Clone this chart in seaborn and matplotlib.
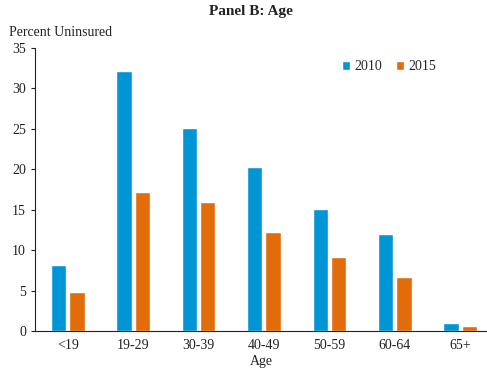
import matplotlib
matplotlib.use("Agg")
import matplotlib.pyplot as plt
import seaborn as sns
import pandas as pd

age_groups = ["<19", "19-29", "30-39", "40-49", "50-59", "60-64", "65+"]
years = ["2010", "2015"]
uninsured_2010 = [8.2, 32.2, 25.1, 20.3, 15.1, 12.0, 1.0]
uninsured_2015 = [4.8, 17.2, 15.9, 12.3, 9.1, 6.7, 0.6]

df = pd.DataFrame({
    "Age": age_groups * 2,
    "Year": [years[0]] * len(age_groups) + [years[1]] * len(age_groups),
    "Percent": uninsured_2010 + uninsured_2015,
})

sns.set_style("white")
plt.rcParams["font.family"] = ["Liberation Serif", "DejaVu Serif"]

fig = plt.figure(figsize=(4.87, 3.69), dpi=100)
ax = fig.add_axes([35 / 487, 1 - 331 / 369, 452 / 487, 283 / 369])

sns.barplot(data=df, x="Age", y="Percent", hue="Year",
            palette=["#0096D6", "#E36C0A"], width=0.56, gap=0.16,
            saturation=1, ax=ax)

ax.set_xlim(-0.5, 6.41)
ax.set_ylim(0, 35)
ax.set_yticks(range(0, 36, 5))
sns.despine(ax=ax)
ax.spines["left"].set_color("#222222")
ax.spines["bottom"].set_color("#222222")
ax.tick_params(axis="y", direction="out", length=3, width=0.8, left=True,
               labelsize=10, colors="#222222")
ax.tick_params(axis="x", length=0, labelsize=10, colors="#222222", pad=6)
ax.set_ylabel("")
ax.set_xlabel("Age", fontsize=10, color="#222222", labelpad=2)

ax.legend(loc="upper left", bbox_to_anchor=(0.651, 1.0), ncol=2, frameon=False,
          fontsize=10, handlelength=0.6, handleheight=0.6, handletextpad=0.3,
          columnspacing=1.0)

fig.text(251 / 487, 1 - 12 / 369, "Panel B: Age", ha="center", va="center",
         fontsize=11, fontweight="bold", color="#222222")
fig.text(9 / 487, 1 - 32 / 369, "Percent Uninsured", ha="left", va="center",
         fontsize=10, color="#222222")

fig.savefig("out.png", dpi=100)
